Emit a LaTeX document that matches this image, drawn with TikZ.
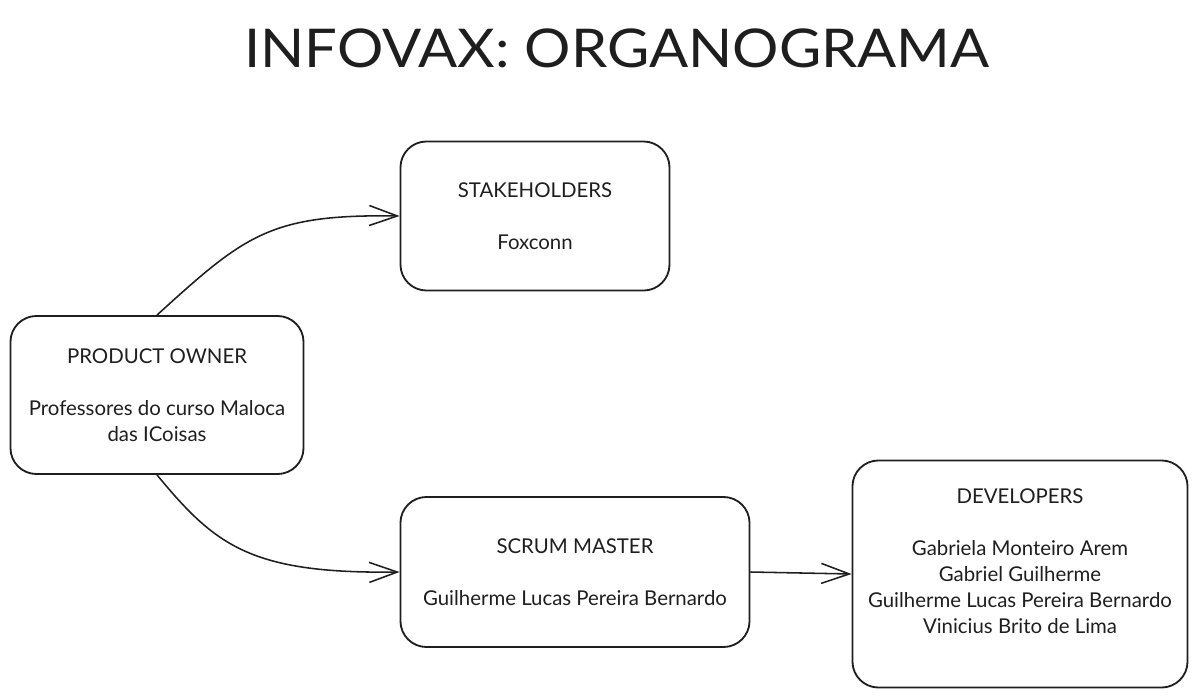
\documentclass[tikz,border=0pt]{standalone}
\usepackage{fontspec}
\setmainfont{Lato}
\usetikzlibrary{arrows.meta}
\definecolor{inkgray}{HTML}{1E1E1E}
\tikzset{
  orgbox/.style={draw=inkgray, line width=1.3pt, rounded corners=0.65cm, align=center,
    text=inkgray, font=\fontsize{14.5}{18.5}\selectfont, inner sep=0pt},
  orgtext/.style={align=center, text=inkgray, font=\fontsize{14.5}{18.5}\selectfont, inner sep=0pt},
  orgarrow/.style={draw=inkgray, line width=1.1pt, -{Straight Barb[length=0.7cm, width=0.5cm, line width=1.1pt]}}
}

\begin{document}
\begin{tikzpicture}[x=0.025cm, y=-0.025cm]
			%%%%% START %%%%%
			\useasboundingbox (0, 0) rectangle (1198, 697);
			
			\node[text=inkgray, font=\fontsize{40}{48}\selectfont] (title) at (617, 48) {\scalebox{1.03}[0.95]{INFOVAX: ORGANOGRAMA}};
			
			\node[orgbox, minimum width=7.325cm, minimum height=3.95cm] (po) at (157, 395)
				{PRODUCT OWNER\\[\baselineskip]Professores do curso Maloca\\das ICoisas};
			\node[orgbox, minimum width=6.725cm, minimum height=3.725cm] (stake) at (535, 216)
				{STAKEHOLDERS\\[\baselineskip]Foxconn};
			\node[orgbox, minimum width=8.725cm, minimum height=3.75cm] (scrum) at (575, 572)
				{SCRUM MASTER\\[\baselineskip]Guilherme Lucas Pereira Bernardo};
			
			\node[orgbox, minimum width=8.375cm, minimum height=5.675cm] (dev) at (1020, 574) {};
			\node[orgtext] (devtext) at (1020, 561)
				{DEVELOPERS\\[\baselineskip]Gabriela Monteiro Arem\\Gabriel Guilherme\\Guilherme Lucas Pereira Bernardo\\Vinicius Brito de Lima};
			
			\draw[orgarrow] (po.north) .. controls (245, 235) and (270, 214) .. (stake.west);
			\draw[orgarrow] (po.south) .. controls (215, 545) and (250, 574) .. (scrum.west);
			\draw[orgarrow] (scrum.east) -- (dev.west);
			
			%%%%% END %%%%%
		\end{tikzpicture}
\end{document}
